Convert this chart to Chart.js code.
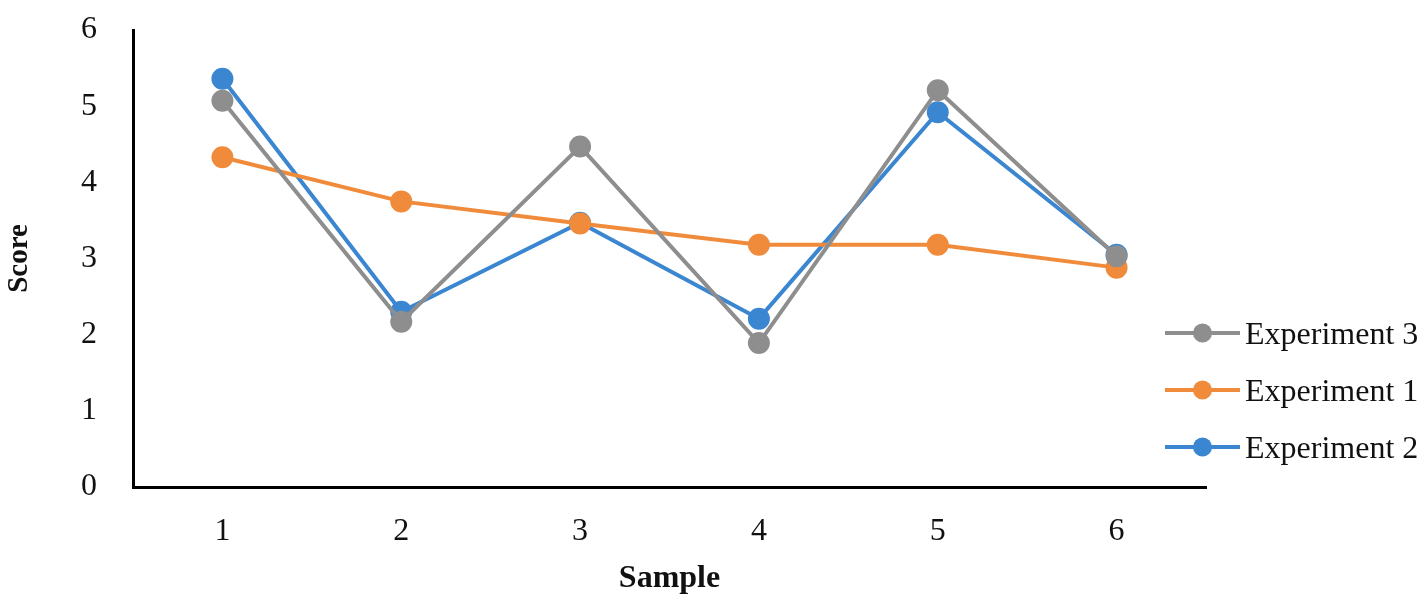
<!DOCTYPE html>
<html>
<head>
<meta charset="utf-8">
<script src="https://cdn.jsdelivr.net/npm/chart.js@4/dist/chart.umd.min.js"></script>
<style>
  html, body { margin: 0; padding: 0; background: #fff; }
  #wrap { width: 1427px; height: 604px; position: relative; }
</style>
</head>
<body>
<div id="wrap"><canvas id="c" width="1427" height="604"></canvas></div>
<script>
const categories = ['1', '2', '3', '4', '5', '6'];
const experiment3 = [5.07, 2.17, 4.47, 1.89, 5.21, 3.03];
const experiment1 = [4.33, 3.75, 3.46, 3.18, 3.18, 2.88];
const experiment2 = [5.36, 2.30, 3.47, 2.21, 4.92, 3.05];
const seriesNames = ['Experiment 3', 'Experiment 1', 'Experiment 2'];
const yTicks = [0, 1, 2, 3, 4, 5, 6];

const colors = { gray: '#8e8e8e', orange: '#f08b3b', blue: '#3b86d1' };
const serif = "'Liberation Serif', 'Times New Roman', serif";

function ds(label, data, color) {
  return {
    label, data,
    borderColor: color, backgroundColor: color,
    pointBackgroundColor: color, pointBorderColor: color,
    borderWidth: 4, pointRadius: 9, pointHoverRadius: 9,
    tension: 0, fill: false
  };
}

const sideLegend = {
  id: 'sideLegend',
  afterDraw(chart) {
    const ctx = chart.ctx;
    const x0 = 1165, lineLen = 75, startY = 333, step = 57;
    ctx.save();
    chart.data.datasets.forEach((d, i) => {
      const y = startY + i * step;
      ctx.strokeStyle = d.borderColor;
      ctx.lineWidth = 4;
      ctx.beginPath();
      ctx.moveTo(x0, y);
      ctx.lineTo(x0 + lineLen, y);
      ctx.stroke();
      ctx.fillStyle = d.borderColor;
      ctx.beginPath();
      ctx.arc(x0 + lineLen / 2, y, 9.5, 0, Math.PI * 2);
      ctx.fill();
      ctx.fillStyle = '#111';
      ctx.font = "32px " + serif;
      ctx.textBaseline = 'middle';
      ctx.textAlign = 'left';
      ctx.fillText(d.label, x0 + lineLen + 5, y + 3);
    });
    ctx.restore();
  }
};

new Chart(document.getElementById('c'), {
  type: 'line',
  data: {
    labels: categories,
    datasets: [
      ds(seriesNames[0], experiment3, colors.gray),
      ds(seriesNames[1], experiment1, colors.orange),
      ds(seriesNames[2], experiment2, colors.blue)
    ]
  },
  options: {
    responsive: false,
    animation: false,
    devicePixelRatio: 1,
    layout: { padding: { left: 0, right: 221, top: 30, bottom: 0 } },
    plugins: {
      legend: { display: false },
      tooltip: { enabled: false }
    },
    scales: {
      x: {
        offset: true,
        grid: { display: false, drawTicks: false },
        border: { display: true, color: '#000', width: 3 },
        ticks: { color: '#111', font: { family: serif, size: 32 }, padding: 25 },
        title: { display: true, text: 'Sample', color: '#111', font: { family: serif, size: 32, weight: 'bold' }, padding: { top: 0, bottom: 6 } },
        afterFit(scale) { scale.height = 117; scale.paddingLeft = 0; scale.paddingRight = 0; }
      },
      y: {
        min: 0, max: 6,
        afterBuildTicks(scale) { scale.ticks = yTicks.map(v => ({ value: v })); },
        grid: { display: false, drawTicks: false },
        border: { display: true, color: '#000', width: 3 },
        ticks: { color: '#111', font: { family: serif, size: 32 }, padding: 36 },
        title: { display: true, text: 'Score', color: '#111', font: { family: serif, size: 29, weight: 'bold' }, padding: { top: 2, bottom: 0 } },
        afterFit(scale) { scale.width = 133; scale.paddingTop = 0; scale.paddingBottom = 0; }
      }
    }
  },
  plugins: [sideLegend]
});
</script>
</body>
</html>
